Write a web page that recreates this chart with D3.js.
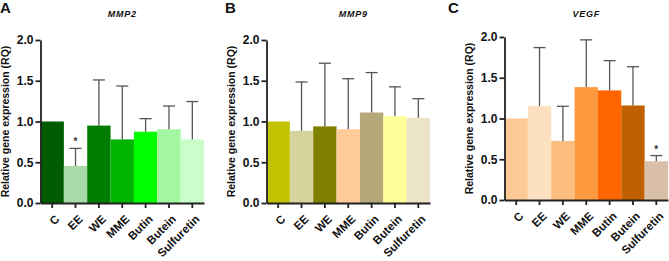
<!DOCTYPE html>
<html>
<head>
<meta charset="utf-8">
<script src="https://cdn.jsdelivr.net/npm/d3@7"></script>
<style>
  body { margin: 0; background: #fff; }
  svg { font-family: "Liberation Sans", Arial, sans-serif; }
  .tick text { font-weight: bold; }
</style>
</head>
<body>
<svg id="chart" width="669" height="261"></svg>
<script>
const groups = ['C', 'EE', 'WE', 'MME', 'Butin', 'Butein', 'Sulfuretin']
const yTicks = [0, 0.5, 1.0, 1.5, 2.0]

const mmp2Means = [1.0, 0.455, 0.95, 0.78, 0.875, 0.905, 0.78]
const mmp2Upper = [null, 0.67, 1.51, 1.435, 1.035, 1.19, 1.245]
const mmp2Colors = ['#005c00', '#a9d9a6', '#007c00', '#00b400', '#00ff00', '#a3f7a0', '#c9fdc9']

const mmp9Means = [1.0, 0.885, 0.94, 0.905, 1.11, 1.065, 1.045]
const mmp9Upper = [null, 1.485, 1.715, 1.525, 1.6, 1.425, 1.28]
const mmp9Colors = ['#c2c200', '#d6d49c', '#808000', '#ffcc99', '#b5a878', '#ffff99', '#ebe4c8']

const vegfMeans = [1.0, 1.155, 0.725, 1.385, 1.345, 1.16, 0.475]
const vegfUpper = [null, 1.87, 1.15, 1.965, 1.71, 1.635, 0.545]
const vegfColors = ['#fdc995', '#fde0c0', '#fdbc80', '#fd9a3f', '#ff6600', '#c06000', '#d9bfa8']

class BarPanel {
    constructor(_config) {
        this.config = {
            parent: _config.parent,
            letter: _config.letter,
            title: _config.title,
            left: _config.left,
            top: _config.top,
            width: _config.width || 163.5,
            height: _config.height || 163,
            titleShift: _config.titleShift || 0
        }
        this.means = _config.means
        this.upper = _config.upper
        this.colors = _config.colors
        this.stars = _config.stars || []
        this.initVis()
    }

    initVis() {
        let vis = this
        let c = vis.config

        vis.chart = c.parent.append('g')
            .attr('transform', `translate(${c.left}, ${c.top})`)

        vis.xScale = d3.scaleBand().domain(groups).range([0, c.width]).padding(0)
        vis.yScale = d3.scaleLinear().domain([0, 2]).range([c.height, 0])

        // bars
        vis.chart.selectAll('.bar')
            .data(groups)
            .join('rect')
                .attr('class', 'bar')
                .attr('x', d => vis.xScale(d))
                .attr('width', vis.xScale.bandwidth())
                .attr('y', (d, i) => vis.yScale(vis.means[i]))
                .attr('height', (d, i) => c.height - vis.yScale(vis.means[i]))
                .attr('fill', (d, i) => vis.colors[i])

        // upper error bars only
        let errs = groups.map((g, i) => ({ g: g, m: vis.means[i], u: vis.upper[i] })).filter(d => d.u != null)
        let cx = d => vis.xScale(d.g) + vis.xScale.bandwidth() / 2
        let eb = vis.chart.selectAll('.err').data(errs).join('g').attr('class', 'err')
        eb.append('line')
            .attr('x1', cx).attr('x2', cx)
            .attr('y1', d => vis.yScale(d.m)).attr('y2', d => vis.yScale(d.u))
            .attr('stroke', '#555').attr('stroke-width', 1.3)
        eb.append('line')
            .attr('x1', d => cx(d) - 6).attr('x2', d => cx(d) + 6)
            .attr('y1', d => vis.yScale(d.u)).attr('y2', d => vis.yScale(d.u))
            .attr('stroke', '#555').attr('stroke-width', 1.3)

        // significance marks
        vis.chart.selectAll('.star')
            .data(vis.stars)
            .join('text')
                .attr('class', 'star')
                .attr('x', i => vis.xScale(groups[i]) + vis.xScale.bandwidth() / 2)
                .attr('y', i => vis.yScale(vis.upper[i]) - 3)
                .attr('text-anchor', 'middle')
                .style('font-size', '10px')
                .style('font-weight', 'bold')
                .attr('fill', '#333')
                .text('*')

        // axes
        vis.yAxisGroup = vis.chart.append('g')
            .call(d3.axisLeft(vis.yScale).tickValues(yTicks).tickFormat(d3.format('.1f')).tickSize(5).tickSizeOuter(0))
        vis.yAxisGroup.selectAll('text').style('font-size', '12px').attr('x', -7).attr('fill', '#111')

        vis.xAxisGroup = vis.chart.append('g')
            .attr('transform', `translate(0, ${c.height})`)
            .call(d3.axisBottom(vis.xScale).tickSize(5).tickSizeOuter(0))
        vis.xAxisGroup.selectAll('text')
            .style('font-size', '11.5px')
            .style('text-anchor', 'end')
            .attr('fill', '#111')
            .attr('x', 0)
            .attr('y', 0)
            .attr('dy', '0.35em')
            .attr('transform', 'translate(5, 14) rotate(-45)')

        vis.chart.selectAll('.domain, .tick line').attr('stroke', '#222').attr('stroke-width', 1.8)

        // labels
        vis.chart.append('text')
            .attr('transform', `translate(-35, ${c.height / 2}) rotate(-90)`)
            .attr('text-anchor', 'middle')
            .attr('dy', '0.35em')
            .style('font-size', '10.5px')
            .style('font-weight', 'bold')
            .attr('fill', '#111')
            .text('Relative gene expression (RQ)')

        vis.chart.append('text')
            .attr('x', c.width / 2 + c.titleShift)
            .attr('y', -c.top + 17)
            .attr('text-anchor', 'middle')
            .style('font-size', '9px')
            .style('font-weight', 'bold')
            .style('font-style', 'italic')
            .style('letter-spacing', '0.8px')
            .attr('fill', '#111')
            .text(c.title)

        vis.chart.append('text')
            .attr('x', -c.left + (c.letter == 'A' ? 0 : 2))
            .attr('y', -c.top + 13)
            .style('font-size', '15px')
            .style('font-weight', 'bold')
            .attr('fill', '#111')
            .text(c.letter)
    }
}

const svg = d3.select('#chart')
new BarPanel({ parent: svg, letter: 'A', title: 'MMP2', left: 40.5, top: 40, means: mmp2Means, upper: mmp2Upper, colors: mmp2Colors, stars: [1] })
new BarPanel({ parent: svg.append('g').attr('transform', 'translate(223, 0)'), letter: 'B', title: 'MMP9', left: 43.5, top: 40, means: mmp9Means, upper: mmp9Upper, colors: mmp9Colors, titleShift: 5 })
new BarPanel({ parent: svg.append('g').attr('transform', 'translate(446, 0)'), letter: 'C', title: 'VEGF', left: 58.5, top: 37, means: vegfMeans, upper: vegfUpper, colors: vegfColors, stars: [6] })
</script>
</body>
</html>
